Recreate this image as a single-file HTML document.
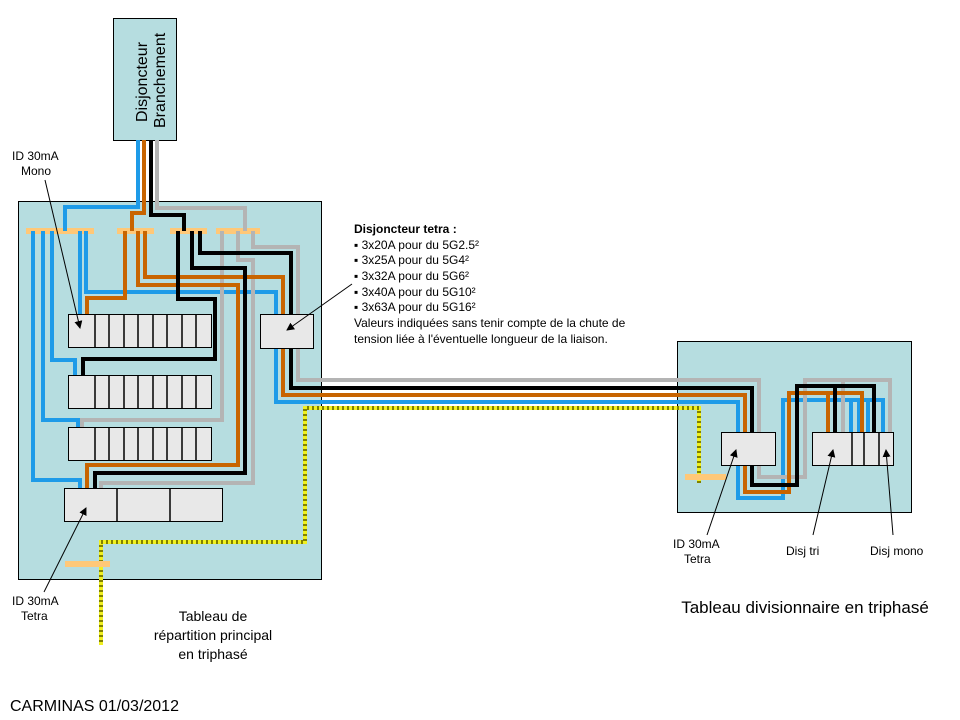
<!DOCTYPE html>
<html><head><meta charset="utf-8"><style>
html,body{margin:0;padding:0;background:#fff;}
svg{display:block;font-family:"Liberation Sans",sans-serif;}
</style></head><body>
<svg width="960" height="720" viewBox="0 0 960 720" xmlns="http://www.w3.org/2000/svg">
<defs>
<marker id="ar" markerWidth="8" markerHeight="8" refX="7" refY="4" orient="auto" markerUnits="userSpaceOnUse"><path d="M0,0 L8,4 L0,8 z" fill="#000"/></marker>
</defs>
<rect x="18.5" y="201.5" width="303" height="378" fill="#b6dde0" stroke="#000"/>
<rect x="677.5" y="341.5" width="234" height="171" fill="#b6dde0" stroke="#000"/>
<rect x="113.5" y="18.5" width="63" height="122" fill="#b6dde0" stroke="#000"/>
<text transform="translate(147,122) rotate(-90)" font-size="16">Disjoncteur</text>
<text transform="translate(165,128) rotate(-90)" font-size="16">Branchement</text>

<g fill="none" stroke-width="4">
<polyline points="699,483 699,408 305,408 305,542 101,542 101,645" stroke="#f0f020"/>
<polyline points="699,483 699,408 305,408 305,542 101,542 101,645" stroke="#808000" stroke-dasharray="2 3"/>
</g>
<g stroke="#ffc878" stroke-width="6">
<line x1="26" y1="231" x2="94" y2="231"/><line x1="117" y1="231" x2="154" y2="231"/>
<line x1="170" y1="231" x2="207" y2="231"/><line x1="216" y1="231" x2="260" y2="231"/>
<line x1="65" y1="564" x2="110" y2="564"/><line x1="685" y1="477" x2="726" y2="477"/>
</g>
<g fill="none" stroke-width="4" stroke-linejoin="miter">
<g stroke="#1e9be8">
<polyline points="138,140 138,207 65,207 65,231"/>
<polyline points="33,231 33,480 80,480 80,490"/>
<polyline points="43,231 43,420 78,420 78,427"/>
<polyline points="52,231 52,360 75,360 75,375"/>
<polyline points="80,231 80,314"/>
<polyline points="86,231 86,292 276,292 276,402 738,402 738,498 783,498 783,400 883,400 883,432"/>
<polyline points="851,400 851,432"/><polyline points="859,400 859,432"/><polyline points="868,400 868,432"/>
</g>
<g stroke="#b4b4b4">
<polyline points="157,140 157,208 245,208 245,231"/>
<polyline points="222,231 222,420 82,420 82,427"/>
<polyline points="238,231 238,260 253,260 253,483 101,483 101,488"/>
<polyline points="253,231 253,247 298,247 298,380 759,380 759,477 805,477 805,380 890,380 890,432"/>
<polyline points="843,380 843,432"/>
</g>
<g stroke="#c86400">
<polyline points="144,140 144,213 132,213 132,231"/>
<polyline points="125,231 125,298 87,298 87,314"/>
<polyline points="138,231 138,285 238,285 238,465 87,465 87,488"/>
<polyline points="145,231 145,277 283,277 283,395 745,395 745,492 789,492 789,393 862,393 862,432"/>
<polyline points="828,393 828,432"/>
</g>
<g stroke="#000">
<polyline points="151,140 151,215 184,215 184,231"/>
<polyline points="178,231 178,299 215,299 215,359 83,359 83,375"/>
<polyline points="192,231 192,268 245,268 245,473 95,473 95,488"/>
<polyline points="200,231 200,253 291,253 291,388 752,388 752,485 797,485 797,386 874,386 874,432"/>
<polyline points="835,386 835,432"/>
</g>
</g>
<g fill="#e8e8e8" stroke="#000" stroke-width="1">
<rect x="68.5" y="314.5" width="143" height="33"/>
<rect x="68.5" y="375.5" width="143" height="33"/>
<rect x="68.5" y="427.5" width="143" height="33"/>
<rect x="64.5" y="488.5" width="158" height="33"/>
<rect x="260.5" y="314.5" width="53" height="34"/>
<rect x="721.5" y="432.5" width="54" height="33"/>
<rect x="812.5" y="432.5" width="81" height="33"/>
</g>
<g stroke="#000" stroke-width="1.5">
<path d="M95,314v33M109,314v33M124,314v33M138,314v33M153,314v33M167,314v33M182,314v33M196,314v33"/>
<path d="M95,375v33M109,375v33M124,375v33M138,375v33M153,375v33M167,375v33M182,375v33M196,375v33"/>
<path d="M95,427v33M109,427v33M124,427v33M138,427v33M153,427v33M167,427v33M182,427v33M196,427v33"/>
<path d="M117,488v33M170,488v33M852,432v33M864,432v33M879,432v33"/>
</g>
<g stroke="#000" stroke-width="1" marker-end="url(#ar)">
<line x1="45" y1="180" x2="80" y2="328"/>
<line x1="44" y1="592" x2="86" y2="508"/>
<line x1="352" y1="284" x2="287" y2="330"/>
<line x1="707" y1="535" x2="736" y2="450"/>
<line x1="813" y1="535" x2="833" y2="450"/>
<line x1="893" y1="535" x2="886" y2="450"/>
</g>
<g font-size="12" fill="#000">
<text x="12" y="160">ID 30mA</text><text x="21" y="175">Mono</text>
<text x="12" y="605">ID 30mA</text><text x="21" y="620">Tetra</text>
<text x="673" y="548">ID 30mA</text><text x="684" y="563">Tetra</text>
<text x="786" y="555">Disj tri</text>
<text x="870" y="555">Disj mono</text>
<text x="10" y="711" font-size="16">CARMINAS 01/03/2012</text>
</g>
<g font-size="14" fill="#000" text-anchor="middle">
<text x="213" y="621">Tableau de</text>
<text x="213" y="640">répartition principal</text>
<text x="213" y="659">en triphasé</text>
<text x="805" y="613" font-size="17">Tableau divisionnaire en triphasé</text>
</g>
<g font-size="12" fill="#000">
<text x="354" y="233" font-weight="bold">Disjoncteur tetra :</text>
<text x="354" y="249">▪ 3x20A pour du 5G2.5²</text>
<text x="354" y="264">▪ 3x25A pour du 5G4²</text>
<text x="354" y="280">▪ 3x32A pour du 5G6²</text>
<text x="354" y="296">▪ 3x40A pour du 5G10²</text>
<text x="354" y="311">▪ 3x63A pour du 5G16²</text>
<text x="354" y="327">Valeurs indiquées sans tenir compte de la chute de</text>
<text x="354" y="343">tension liée à l'éventuelle longueur de la liaison.</text>
</g>
</svg>
</body></html>
